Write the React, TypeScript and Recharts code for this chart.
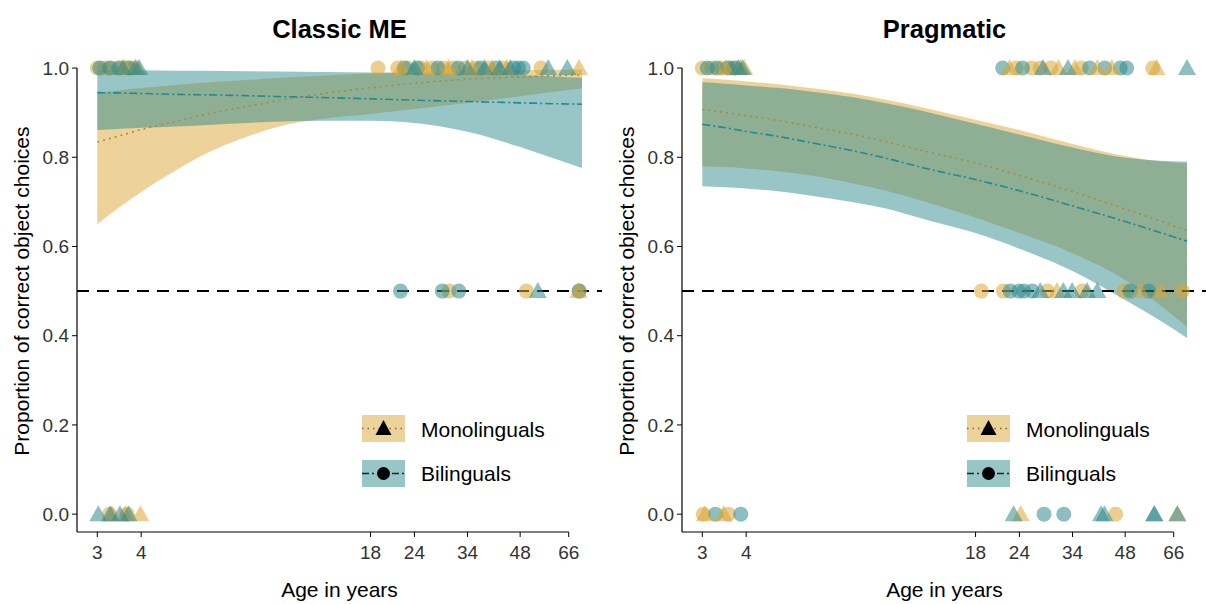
import React from 'react';
import { ComposedChart, Area, Line, Scatter, XAxis, YAxis, ReferenceLine } from 'recharts';

const AGES = [3, 3.5, 4, 5, 6, 8, 10, 13, 18, 24, 34, 48, 60, 72];

// Classic ME – fitted proportions and 95% band
const classicMonoFit = [0.834, 0.849, 0.862, 0.88, 0.895, 0.914, 0.928, 0.942, 0.956, 0.966, 0.975, 0.98, 0.983, 0.985];
const classicMonoLo = [0.65, 0.69, 0.722, 0.77, 0.805, 0.846, 0.87, 0.886, 0.897, 0.908, 0.922, 0.937, 0.947, 0.954];
const classicMonoHi = [0.945, 0.95, 0.955, 0.962, 0.967, 0.973, 0.978, 0.983, 0.988, 0.991, 0.994, 0.995, 0.996, 0.997];
const classicBiFit = [0.945, 0.944, 0.943, 0.941, 0.94, 0.938, 0.936, 0.934, 0.931, 0.928, 0.925, 0.922, 0.92, 0.919];
const classicBiLo = [0.861, 0.864, 0.866, 0.869, 0.872, 0.877, 0.88, 0.882, 0.882, 0.877, 0.857, 0.823, 0.797, 0.776];
const classicBiHi = [0.996, 0.995, 0.995, 0.994, 0.994, 0.993, 0.992, 0.991, 0.99, 0.989, 0.987, 0.984, 0.981, 0.978];

// Pragmatic
const pragMonoFit = [0.907, 0.9, 0.893, 0.882, 0.87, 0.852, 0.835, 0.813, 0.787, 0.759, 0.723, 0.684, 0.658, 0.635];
const pragMonoLo = [0.78, 0.778, 0.775, 0.768, 0.76, 0.742, 0.725, 0.7, 0.665, 0.63, 0.585, 0.525, 0.47, 0.42];
const pragMonoHi = [0.977, 0.974, 0.97, 0.963, 0.956, 0.943, 0.929, 0.91, 0.884, 0.861, 0.83, 0.803, 0.791, 0.786];
const pragBiFit = [0.874, 0.866, 0.858, 0.846, 0.834, 0.815, 0.798, 0.775, 0.75, 0.725, 0.691, 0.656, 0.632, 0.612];
const pragBiLo = [0.735, 0.733, 0.73, 0.723, 0.715, 0.7, 0.685, 0.66, 0.63, 0.595, 0.545, 0.48, 0.435, 0.395];
const pragBiHi = [0.968, 0.965, 0.961, 0.955, 0.948, 0.935, 0.921, 0.902, 0.875, 0.851, 0.822, 0.799, 0.792, 0.79];

// individual participants: [age, proportion]
const classicMonoCircles = [
  [3.0, 1], [3.15, 1], [3.3, 1], [3.5, 1], [3.65, 1], [3.8, 1],
  [18.9, 1], [21.5, 1], [23, 1], [25, 1], [27, 1], [29, 1], [31, 1], [33.5, 1], [36, 1], [39, 1], [43, 1], [55, 1],
  [30.1, 0.5], [50, 0.5], [70.8, 0.5],
  [3.25, 0], [3.65, 0],
];
const classicMonoTriangles = [
  [3.6, 1], [3.9, 1],
  [22, 1], [26, 1], [30, 1], [35, 1], [40, 1], [44, 1], [70.6, 1],
  [70.4, 0.5],
  [3.3, 0], [3.6, 0], [3.98, 0],
];
const classicBiCircles = [
  [3.05, 1], [3.25, 1], [3.45, 1], [3.7, 1],
  [22.5, 1], [24.5, 1], [28, 1], [32, 1], [37, 1], [41, 1], [46, 1], [47.5, 1], [49, 1],
  [21.9, 0.5], [28.8, 0.5], [32.1, 0.5], [70.6, 0.5],
];
const classicBiTriangles = [
  [3.55, 1], [3.85, 1], [3.95, 1],
  [24, 1], [34, 1], [38, 1], [42, 1], [45, 1], [57.7, 1], [65.4, 1],
  [53.9, 0.5],
  [3.02, 0], [3.26, 0], [3.48, 0], [3.68, 0],
];

const pragMonoCircles = [
  [3.0, 1], [3.2, 1], [3.4, 1], [3.6, 1], [3.75, 1],
  [23.5, 1], [26, 1], [27.5, 1], [29.5, 1], [36, 1], [57.5, 1],
  [18.7, 0.5], [21.6, 0.5], [28.8, 0.5], [36.2, 0.5], [47.6, 0.5], [69.9, 0.5],
  [3.02, 0], [3.56, 0], [45.1, 0],
];
const pragMonoTriangles = [
  [3.5, 1], [3.85, 1], [3.95, 1],
  [22.5, 1], [31, 1], [34.5, 1], [40, 1], [44, 1], [59, 1],
  [30.7, 0.5], [53.1, 0.5], [60.5, 0.5],
  [3.05, 0], [3.45, 0], [24.2, 0], [67.6, 0],
];
const pragBiCircles = [
  [3.1, 1], [3.3, 1], [3.55, 1], [3.7, 1],
  [21.5, 1], [24.5, 1], [38, 1], [42, 1], [46.5, 1], [48.5, 1],
  [22.6, 0.5], [23.9, 0.5], [24.7, 0.5], [26.1, 0.5], [49.7, 0.5], [56, 0.5],
  [3.27, 0], [3.86, 0], [28.2, 0], [32.1, 0],
];
const pragBiTriangles = [
  [3.8, 1], [3.9, 1],
  [28, 1], [33, 1], [72, 1],
  [27.5, 0.5], [32, 0.5], [33.9, 0.5], [37.4, 0.5], [40, 0.5],
  [23.1, 0], [41, 0], [41.9, 0], [58.1, 0], [58.1, 0], [67.6, 0],
];

const X_TICKS = [3, 4, 18, 24, 34, 48, 66];
const Y_TICKS = [0, 0.2, 0.4, 0.6, 0.8, 1];

const MONO = '#DBA535';
const BI = '#318B8D';
const X_MIN = 2.626;
const X_MAX = 82.1;
const Y_MIN = -0.04;
const FONT = '"Liberation Sans", Arial, sans-serif';

const buildCurves = (mFit, mLo, mHi, bFit, bLo, bHi) =>
  AGES.map((age, i) => ({
    age,
    mFit: mFit[i],
    mRange: [mLo[i], mHi[i]],
    bFit: bFit[i],
    bRange: [bLo[i], bHi[i]],
  }));

const toPoints = (pts) => pts.map(([age, p]) => ({ age, p }));

const circleShape = (color) => (props: any) => (
  <circle cx={props.cx} cy={props.cy} r={7.5} fill={color} fillOpacity={0.55} />
);
const triangleShape = (color) => (props: any) => {
  const { cx, cy } = props;
  return (
    <polygon
      points={`${cx},${cy - 9} ${cx - 9},${cy + 7} ${cx + 9},${cy + 7}`}
      fill={color}
      fillOpacity={0.55}
    />
  );
};

const Panel = ({ left, curves, monoCircles, monoTriangles, biCircles, biTriangles }) => (
  <div style={{ position: 'absolute', left, top: 0 }}>
    <ComposedChart width={603} height={604} margin={{ top: 50.2, right: 1, bottom: 7, left: 10 }}>
      <XAxis
        type="number"
        dataKey="age"
        scale="log"
        domain={[X_MIN, X_MAX]}
        allowDataOverflow
        ticks={X_TICKS}
        interval={0}
        axisLine={false}
        tickLine={{ stroke: '#000' }}
        tickSize={5}
        tickMargin={9}
        tick={{ fill: '#333', fontSize: 19, fontFamily: FONT }}
        height={65}
        label={{ value: 'Age in years', position: 'insideBottom', offset: 0, fill: '#000', fontSize: 21, fontFamily: FONT }}
      />
      <YAxis
        type="number"
        domain={[Y_MIN, 1.04]}
        allowDataOverflow
        ticks={Y_TICKS}
        interval={0}
        tickFormatter={(v) => v.toFixed(1)}
        axisLine={false}
        tickLine={{ stroke: '#000' }}
        tickSize={5}
        tickMargin={3}
        tick={{ fill: '#333', fontSize: 19, fontFamily: FONT }}
        width={67}
        label={{
          value: 'Proportion of correct object choices',
          angle: -90,
          position: 'insideLeft',
          offset: 12,
          fill: '#000',
          fontSize: 21,
          fontFamily: FONT,
          style: { textAnchor: 'middle' },
        }}
      />
      <Area data={curves} dataKey="mRange" type="monotone" stroke="none" fill={MONO} fillOpacity={0.5} isAnimationActive={false} />
      <Area data={curves} dataKey="bRange" type="monotone" stroke="none" fill={BI} fillOpacity={0.5} isAnimationActive={false} />
      <Line data={curves} dataKey="mFit" type="monotone" stroke="#A88B35" strokeWidth={1.6} strokeDasharray="2 4" dot={false} isAnimationActive={false} />
      <Line data={curves} dataKey="bFit" type="monotone" stroke="#1F8A93" strokeWidth={1.6} strokeDasharray="8 3 2 3" dot={false} isAnimationActive={false} />
      <Scatter data={toPoints(monoCircles)} dataKey="p" shape={circleShape(MONO)} isAnimationActive={false} />
      <Scatter data={toPoints(biCircles)} dataKey="p" shape={circleShape(BI)} isAnimationActive={false} />
      <Scatter data={toPoints(monoTriangles)} dataKey="p" shape={triangleShape(MONO)} isAnimationActive={false} />
      <Scatter data={toPoints(biTriangles)} dataKey="p" shape={triangleShape(BI)} isAnimationActive={false} />
      <ReferenceLine y={0.5} stroke="#000" strokeWidth={2} strokeDasharray="12 8" />
      <ReferenceLine segment={[{ x: X_MIN, y: Y_MIN }, { x: 66, y: Y_MIN }]} stroke="#000" strokeWidth={1.2} ifOverflow="visible" />
      <ReferenceLine segment={[{ x: X_MIN, y: Y_MIN }, { x: X_MIN, y: 1 }]} stroke="#000" strokeWidth={1.2} ifOverflow="visible" />
    </ComposedChart>
  </div>
);

const LegendKeys = ({ dx }) => (
  <g>
    <rect x={362 + dx} y={415} width={43} height={27} fill={MONO} fillOpacity={0.5} />
    <line x1={362 + dx} x2={405 + dx} y1={428.5} y2={428.5} stroke="#7a6a40" strokeWidth={1.4} strokeDasharray="1.5 4" />
    <polygon points={`${383.5 + dx},${420} ${375.5 + dx},${435} ${391.5 + dx},${435}`} fill="#000" />
    <text x={421 + dx} y={437} fontSize={21} fontFamily={FONT} fill="#000">Monolinguals</text>
    <rect x={362 + dx} y={460} width={43} height={27} fill={BI} fillOpacity={0.5} />
    <line x1={362 + dx} x2={405 + dx} y1={473.5} y2={473.5} stroke="#222" strokeWidth={1.4} strokeDasharray="7 3 2 3" />
    <circle cx={383.5 + dx} cy={473.5} r={6.5} fill="#000" />
    <text x={421 + dx} y={481} fontSize={21} fontFamily={FONT} fill="#000">Bilinguals</text>
  </g>
);

export default function App() {
  const classic = buildCurves(classicMonoFit, classicMonoLo, classicMonoHi, classicBiFit, classicBiLo, classicBiHi);
  const prag = buildCurves(pragMonoFit, pragMonoLo, pragMonoHi, pragBiFit, pragBiLo, pragBiHi);
  return (
    <div style={{ position: 'absolute', left: 0, top: 0, width: 1206, height: 604, background: '#fff', overflow: 'hidden' }}>
      <Panel
        left={0}
        curves={classic}
        monoCircles={classicMonoCircles}
        monoTriangles={classicMonoTriangles}
        biCircles={classicBiCircles}
        biTriangles={classicBiTriangles}
      />
      <Panel
        left={605}
        curves={prag}
        monoCircles={pragMonoCircles}
        monoTriangles={pragMonoTriangles}
        biCircles={pragBiCircles}
        biTriangles={pragBiTriangles}
      />
      <svg width={1206} height={604} style={{ position: 'absolute', left: 0, top: 0, pointerEvents: 'none' }}>
        <text x={339.5} y={38} textAnchor="middle" fontSize={25.5} fontWeight="bold" fontFamily={FONT} fill="#000">Classic ME</text>
        <text x={944.5} y={38} textAnchor="middle" fontSize={25.5} fontWeight="bold" fontFamily={FONT} fill="#000">Pragmatic</text>
        <LegendKeys dx={0} />
        <LegendKeys dx={605} />
      </svg>
    </div>
  );
}
